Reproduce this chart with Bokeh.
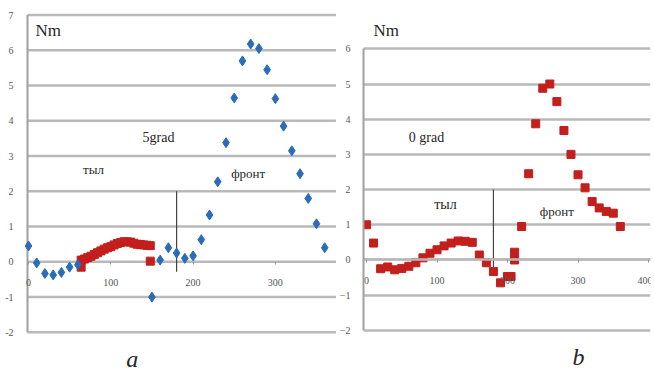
from bokeh.plotting import figure
from bokeh.layouts import row
from bokeh.models import FixedTicker, Range1d, Label
from bokeh.core.properties import value
from bokeh.embed import file_html
from bokeh.resources import INLINE

# ---------------- data: panel a (5 grad) ----------------
a_blue_x = [0, 10, 20, 30, 40, 50, 60, 150, 160, 170, 180, 190, 200, 210, 220, 230,
            240, 250, 260, 270, 280, 290, 300, 310, 320, 330, 340, 350, 360]
a_blue_y = [0.45, -0.03, -0.33, -0.37, -0.3, -0.15, -0.08, -1.0, 0.05, 0.4, 0.25, 0.1,
            0.17, 0.63, 1.33, 2.27, 3.38, 4.65, 5.7, 6.18, 6.05, 5.45, 4.63, 3.85, 3.15,
            2.5, 1.8, 1.08, 0.4]
a_red_x = [64, 64, 68, 72, 76, 80, 84, 88, 92, 96, 100, 104, 108, 112, 116, 120, 124,
           128, 132, 136, 140, 144, 148, 148]
a_red_y = [-0.15, 0.05, 0.08, 0.12, 0.16, 0.21, 0.26, 0.31, 0.36, 0.4, 0.43, 0.48, 0.52,
           0.55, 0.57, 0.57, 0.56, 0.53, 0.5, 0.49, 0.48, 0.47, 0.46, 0.02]
a_divider_x = [180]
a_divider_y = [-0.28, 2.0]
a_xticks = [0, 100, 200, 300]
a_yticks = [-2, -1, 0, 1, 2, 3, 4, 5, 6, 7]

# ---------------- data: panel b (0 grad) ----------------
b_x = [0, 10, 20, 30, 40, 50, 60, 70, 80, 90, 100, 110, 120, 130, 140, 150, 160, 170,
       180, 190, 200, 205, 210, 210, 220, 230, 240, 250, 260, 270, 280, 290, 300, 310,
       320, 330, 340, 350, 360]
b_y = [1.0, 0.48, -0.25, -0.2, -0.28, -0.24, -0.18, -0.08, 0.06, 0.19, 0.29, 0.4, 0.48,
       0.54, 0.53, 0.5, 0.14, -0.08, -0.33, -0.65, -0.47, -0.47, 0.0, 0.22, 0.95, 2.45,
       3.87, 4.88, 5.0, 4.5, 3.68, 3.0, 2.42, 2.05, 1.66, 1.48, 1.38, 1.33, 0.95]
b_divider_x = [180]
b_divider_y = [-0.2, 2.0]
b_xticks = [0, 100, 200, 300, 400]
b_yticks = [-2, -1, 0, 1, 2, 3, 4, 5, 6]

BLUE = "#2b6cb8"
RED = "#c21f1d"
GRID = "#b9b9b9"
AXIS = "#a0a0a0"
TXT = "#262626"
FONT = "'Liberation Serif', 'Times New Roman', serif"


def style_x(p, xticks, line_color):
    p.title.visible = False
    p.outline_line_color = None
    p.background_fill_color = "white"
    p.border_fill_color = "white"
    p.xgrid.visible = False
    xa = p.xaxis[0]
    xa.fixed_location = 0
    xa.ticker = FixedTicker(ticks=xticks)
    xa.axis_line_color = line_color
    xa.axis_line_width = 2.5
    xa.major_tick_out = 3
    xa.major_tick_in = 0
    xa.major_tick_line_color = "#999999"
    xa.minor_tick_line_color = None
    xa.major_label_text_font = FONT
    xa.major_label_text_font_size = "10px"
    xa.major_label_text_color = "#555555"
    xa.major_label_standoff = 14


def lab(p, x, y, text, size, style_="normal"):
    p.add_layout(Label(x=x, y=y, text=text, text_font=FONT, text_font_size=size,
                       text_align="center", text_baseline="middle", text_color=TXT,
                       text_font_style=style_))


# ---------------- panel a ----------------
A_X0, A_X1 = -34.0, 374.3          # frame spans the whole panel width
A_AXIS_X = -1.2                    # where the y axis line sits
A_LABEL_X = -18.2                  # right edge of the y tick labels
pA = figure(width=336, height=371, x_range=Range1d(A_X0, A_X1), y_range=Range1d(-3.11, 7.3),
            output_backend="svg", toolbar_location=None,
            min_border_left=0, min_border_right=0, min_border_top=4, min_border_bottom=0)
style_x(pA, a_xticks, None)
pA.yaxis.visible = False
pA.ygrid.visible = False
n = len(a_yticks)
pA.segment(x0=[A_AXIS_X] * n, y0=a_yticks, x1=[A_X1] * n, y1=a_yticks,
           line_color=GRID, line_width=2.5)
pA.segment(x0=[A_AXIS_X], y0=[min(a_yticks)], x1=[A_AXIS_X], y1=[max(a_yticks)],
           line_color=AXIS, line_width=2)
pA.text(x=[A_LABEL_X] * n, y=a_yticks, text=[str(t) for t in a_yticks],
        text_align="right", text_baseline="middle", text_color="#555555",
        text_font=value(FONT), text_font_size="10px")
pA.segment(x0=a_divider_x, y0=[a_divider_y[0]], x1=a_divider_x, y1=[a_divider_y[1]],
           line_color="#444444", line_width=1.2)
pA.scatter(a_red_x, a_red_y, marker="square", size=8, fill_color=RED, line_color=RED)
pA.scatter(a_blue_x, a_blue_y, marker="diamond", size=10, fill_color=BLUE, line_color=BLUE)
lab(pA, 24, 6.56, "Nm", "17px")
lab(pA, 158, 3.52, "5grad", "14px")
lab(pA, 79, 2.61, "тыл", "13px")
lab(pA, 267, 2.5, "фронт", "13px")
lab(pA, 126, -2.76, "a", "24px", "italic")

# ---------------- panel b ----------------
pB = figure(width=316, height=371, x_range=Range1d(-4.3, 402.8), y_range=Range1d(-3.17, 7.26),
            output_backend="svg", toolbar_location=None,
            min_border_left=27, min_border_right=2, min_border_top=4, min_border_bottom=0)
style_x(pB, b_xticks, GRID)
pB.ygrid.ticker = FixedTicker(ticks=b_yticks)
pB.ygrid.grid_line_color = GRID
pB.ygrid.grid_line_width = 2.5
ya = pB.yaxis[0]
ya.ticker = FixedTicker(ticks=b_yticks)
ya.bounds = (min(b_yticks) - 0.01, max(b_yticks) + 0.01)
ya.axis_line_color = AXIS
ya.axis_line_width = 2
ya.major_tick_out = 0
ya.major_tick_in = 0
ya.minor_tick_line_color = None
ya.major_label_text_font = FONT
ya.major_label_text_font_size = "10px"
ya.major_label_text_color = "#555555"
ya.major_label_standoff = 13
pB.segment(x0=b_divider_x, y0=[b_divider_y[0]], x1=b_divider_x, y1=[b_divider_y[1]],
           line_color="#444444", line_width=1.2)
pB.scatter(b_x, b_y, marker="square", size=8, fill_color=RED, line_color=RED)
lab(pB, 28, 6.51, "Nm", "17px")
lab(pB, 85, 3.49, "0 grad", "14px")
lab(pB, 112, 1.57, "тыл", "14px")
lab(pB, 270, 1.37, "фронт", "13px")
lab(pB, 300.7, -2.77, "b", "24px", "italic")

layout = row(pA, pB, spacing=0)
open("out.html", "w").write(file_html(layout, INLINE))
